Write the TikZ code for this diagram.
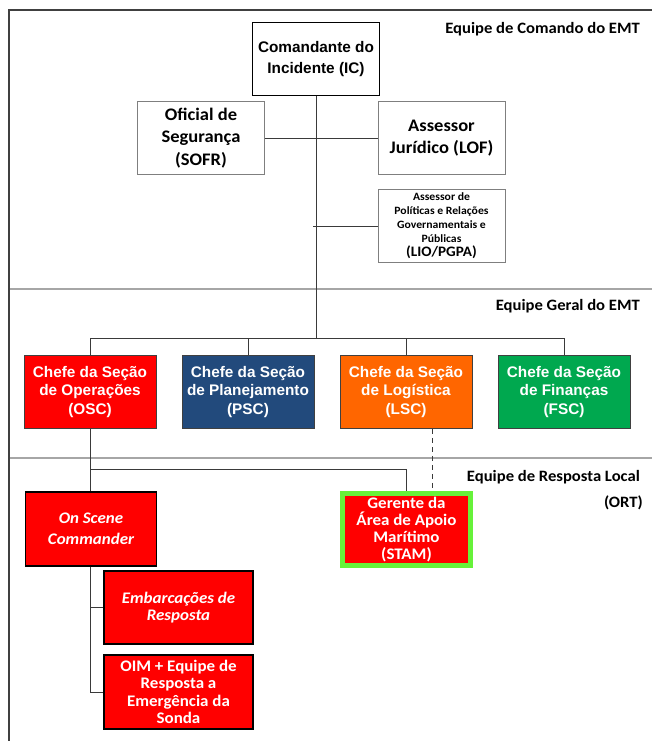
\documentclass[tikz,border=0pt]{standalone}
\usepackage{fontspec}
\setmainfont{Carlito}[FakeStretch=1.05]
\newfontfamily\arialfont{Liberation Sans}
\usetikzlibrary{calc}
\definecolor{oscred}{HTML}{FF0000}
\definecolor{pscblue}{HTML}{224A7C}
\definecolor{lscorange}{HTML}{FF6600}
\definecolor{fscgreen}{HTML}{00A84F}
\definecolor{limeedge}{HTML}{66F23A}
\definecolor{framegray}{HTML}{404040}
\definecolor{sepgray}{HTML}{A6A6A6}
\definecolor{linkgray}{HTML}{3A3A3A}
\definecolor{boxgray}{HTML}{7F7F7F}
\tikzset{
  whitebox/.style={draw=boxgray, line width=0.9bp, fill=white, align=center, inner sep=0pt,
    minimum width=127bp, minimum height=73bp},
  secbox/.style={draw=framegray, line width=0.7bp, align=center, inner sep=0pt, text=white,
    minimum width=132bp, minimum height=73bp,
    font=\arialfont\bfseries\fontsize{15.4}{18.5}\selectfont},
  ortbox/.style={draw=black, line width=1.1bp, fill=oscred, align=center, inner sep=0pt, text=white,
    font=\bfseries\fontsize{16.2}{17.3}\selectfont},
  link/.style={draw=linkgray, line width=1bp},
  header/.style={anchor=east, inner sep=0pt, font=\bfseries\fontsize{15.9}{18}\selectfont},
}
\begin{document}
\begin{tikzpicture}[x=1bp,y=-1bp]
\useasboundingbox (0,0) rectangle (652,741);
% outer frame and band separators
\draw[sepgray, line width=1.2bp] (9,289) -- (652,289);
\draw[sepgray, line width=1.2bp] (9,458) -- (652,458);
\draw[framegray, line width=1.3bp] (9,741) -- (9,10) -- (652,10);

% band titles
\node[header] (hcmd) at (640,29) {Equipe de Comando do EMT};
\node[header] (hgen) at (640,306) {Equipe Geral do EMT};
\node[header] (hort) at (640,477) {Equipe de Resposta Local};
\node[header] (hortb) at (643,503) {(ORT)};

% command staff
\node[whitebox, draw=black, line width=1.4bp, font=\arialfont\bfseries\fontsize{15.4}{21}\selectfont]
  (ic) at (316,59) {Comandante do\\Incidente (IC)};
\node[whitebox, font=\bfseries\fontsize{17.7}{22.5}\selectfont] (sofr) at (201,138) {Oficial de\\Segurança\\(SOFR)};
\node[whitebox, font=\bfseries\fontsize{17.7}{22}\selectfont] (lof) at (441.5,138) {Assessor\\Jurídico (LOF)};
\node[whitebox, font=\bfseries\fontsize{11.2}{14}\selectfont] (lio) at (441.5,226)
  {Assessor de\\Políticas e Relações\\Governamentais e\\Públicas\\[0.5pt]{\fontsize{14.5}{14}\selectfont(LIO/PGPA)}};

% general staff
\node[secbox, fill=oscred] (osc) at (90,392) {Chefe da Seção\\de Operações\\(OSC)};
\node[secbox, fill=pscblue] (psc) at (248,392) {Chefe da Seção\\de Planejamento\\(PSC)};
\node[secbox, fill=lscorange] (lsc) at (406,392) {Chefe da Seção\\de Logística\\(LSC)};
\node[secbox, fill=fscgreen] (fsc) at (564,392) {Chefe da Seção\\de Finanças\\(FSC)};

% local response team
\node[ortbox, minimum width=131bp, minimum height=74bp, font=\bfseries\itshape\fontsize{16.2}{21}\selectfont]
  (osco) at (91,529) {On Scene\\Commander};
\node[ortbox, minimum width=149bp, minimum height=73bp, font=\bfseries\itshape\fontsize{16.2}{17.5}\selectfont]
  (emb) at (178.5,607.5) {Embarcações de\\Resposta};
\node[ortbox, minimum width=149bp, minimum height=74bp] (oim) at (178.5,692)
  {OIM + Equipe de\\Resposta a\\Emergência da\\Sonda};
\node[ortbox, draw=limeedge, line width=5bp, minimum width=128bp, minimum height=72bp] (stam) at (406.5,529.5)
  {Gerente da\\Área de Apoio\\Marítimo\\(STAM)};

% connectors
\coordinate (busy) at (0,338);
\coordinate (orty) at (0,469);
\draw[link] (ic.south) -- (ic.south |- busy);
\draw[link] (sofr.east) -- (lof.west);
\draw[link] (lio.west) -- ([xshift=-3bp]ic.south |- lio.west);
\draw[link] (osc.north) -- (osc.north |- busy) -| (fsc.north);
\draw[link] (psc.north) -- (psc.north |- busy);
\draw[link] (lsc.north) -- (lsc.north |- busy);
\draw[link] (osc.south) -- (osc.south |- osco.north);
\draw[link] (osc.south |- orty) -| (stam.north);
\draw[link, dashed, dash pattern=on 5bp off 4bp] ([xshift=26bp]lsc.south) -- ([xshift=26bp]lsc.south |- stam.north);
\draw[link] ([xshift=-1bp]osco.south) |- (emb.west);
\draw[link] ([xshift=-1bp]osco.south) |- (oim.west);
\end{tikzpicture}
\end{document}
